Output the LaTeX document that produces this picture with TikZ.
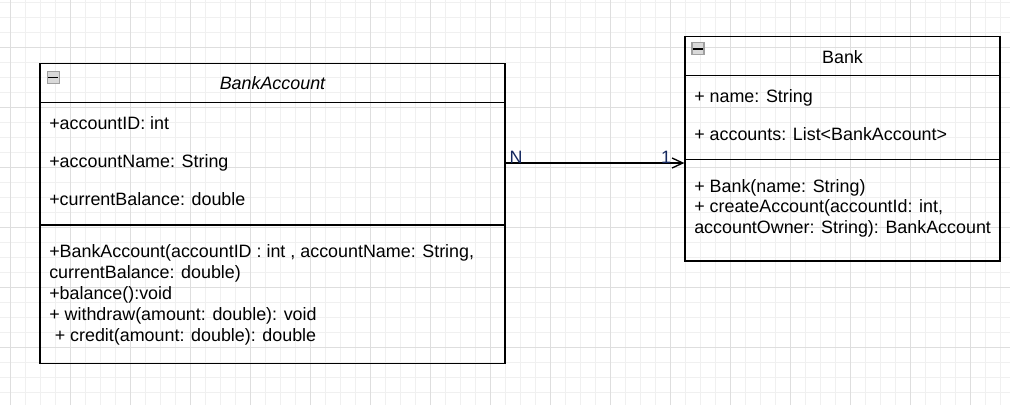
\documentclass[tikz,border=0pt]{standalone}
\usepackage{fontspec}
\setmainfont{Liberation Sans}
\usepackage{tikz}
\usetikzlibrary{arrows.meta,positioning,calc}
\definecolor{gridminor}{HTML}{F0F0F0}
\definecolor{gridmajor}{HTML}{DEDEDE}
\definecolor{labelblue}{HTML}{14285E}
\newcommand{\umltext}{\fontsize{13.42}{16}\selectfont}

\begin{document}
\begin{tikzpicture}[
  x=0.75pt, y=-0.75pt,
  cls/.style={draw, line width=1pt, rectangle, inner sep=0pt},
  member/.style={anchor=base west, inner sep=0pt, font=\umltext},
  title/.style={anchor=base, inner sep=0pt, font=\umltext},
  btn/.style={draw=gray!75, fill=gray!30, line width=0.8pt, inner sep=0pt,
              minimum size=9pt},
  mult/.style={inner sep=0pt, font=\umltext, text=labelblue},
  assoc/.style={line width=1pt, -{Straight Barb[length=8pt, width=7.5pt]}}]
% page and grid
\useasboundingbox (0,0) rectangle (1010,405);
\fill[white] (0,0) rectangle (1010,405);
\begin{scope}[shift={(10,47)}, y=0.75pt]
  \draw[gridminor, line width=0.6pt, step=15] (-10,-358) grid (1000,47);
  \draw[gridmajor, line width=0.75pt, step=60] (-10,-358) grid (1000,47);
\end{scope}

% BankAccount class
\node[cls, minimum width=348.75pt, minimum height=225pt] (acct) at (272.5,213.3) {};
\draw[line width=1pt] (acct.west |- 0,102.3) -- (acct.east |- 0,102.3);
\draw[line width=1pt] (acct.west |- 0,225) -- (acct.east |- 0,225);
\node[btn] (acctbtn) at (53.3,77.5) {};
\draw[line width=1.4pt] ([xshift=-3.8pt]acctbtn.center) -- ([xshift=3.8pt]acctbtn.center);
\node[title, font=\umltext\itshape] (acctname) at (272.5,89.3) {BankAccount};
\node[member] (acctid) at (49,129) {+accountID: int};
\node[member] (acctnm) at (49,167.3) {+accountName: String};
\node[member] (acctbal) at (49,205.8) {+currentBalance: double};
\node[member] (ctor1) at (49,257.3) {+BankAccount(accountID : int , accountName: String,};
\node[member] (ctor2) at (49,278.3) {currentBalance: double)};
\node[member] (balop) at (49,299.3) {+balance():void};
\node[member] (withop) at (49,320.5) {+ withdraw(amount: double): void};
\node[member] (credop) at (54.5,341.5) {+ credit(amount: double): double};

% Bank class
\node[cls, minimum width=236.25pt, minimum height=168.2pt] (bank) at (842.5,148.85) {};
\draw[line width=1pt] (bank.west |- 0,75.7) -- (bank.east |- 0,75.7);
\draw[line width=1pt] (bank.west |- 0,159.5) -- (bank.east |- 0,159.5);
\node[btn] (bankbtn) at (698,48.8) {};
\draw[line width=1.4pt] ([xshift=-3.8pt]bankbtn.center) -- ([xshift=3.8pt]bankbtn.center);
\node[title] (bankname) at (842.5,63.3) {Bank};
\node[member] (bname) at (694,102) {+ name: String};
\node[member] (baccts) at (694,140.3) {+ accounts: List<BankAccount>};
\node[member] (bctor) at (694,192) {+ Bank(name: String)};
\node[member] (bcreate1) at (694,212.8) {+ createAccount(accountId: int,};
\node[member] (bcreate2) at (694,233.8) {accountOwner: String): BankAccount};

% association
\coordinate (assocstart) at (acct.east |- 0,163);
\draw[assoc] (assocstart) -- (assocstart -| bank.west)
  node[mult, pos=0, anchor=base west, xshift=2.5pt] (nmult) {N}
  node[mult, pos=1, anchor=base east, xshift=-9.5pt] (onemult) {1};
\end{tikzpicture}
\end{document}
